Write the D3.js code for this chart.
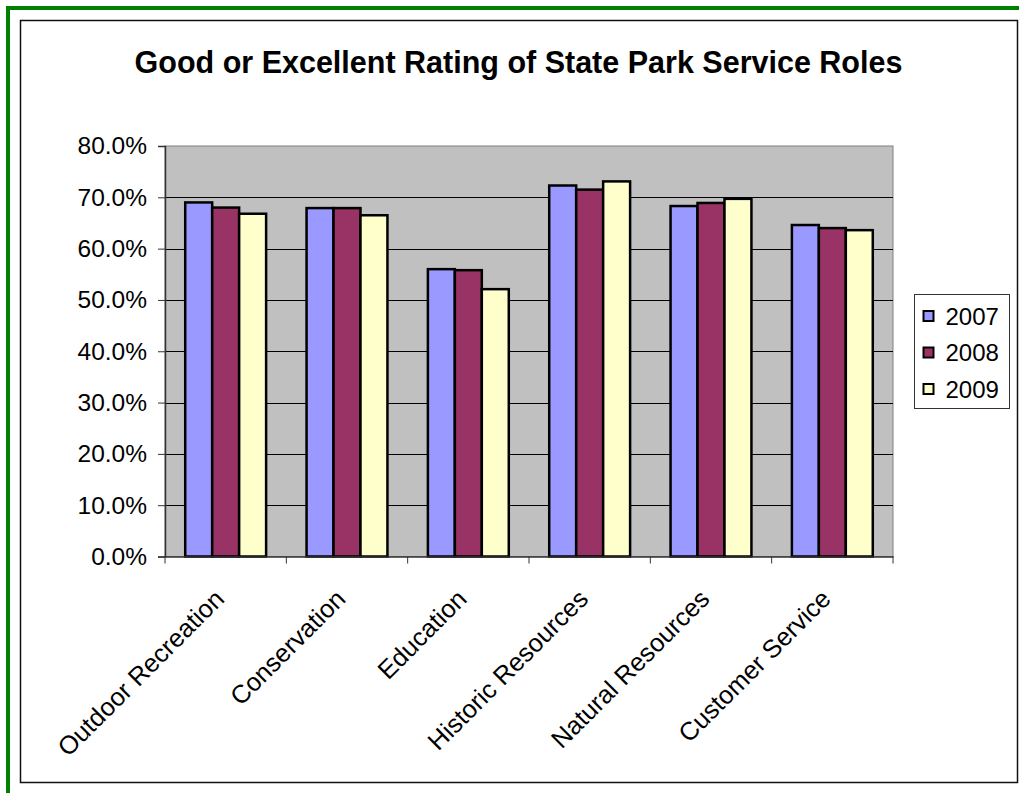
<!DOCTYPE html>
<html>
<head>
<meta charset="utf-8">
<script src="https://cdn.jsdelivr.net/npm/d3@7"></script>
<style>
  body { margin: 0; background: #fff; }
  text { font-family: "Liberation Sans", Arial, sans-serif; fill: #000; }
</style>
</head>
<body>
<div id="app"></div>
<script>
const categories = ['Outdoor Recreation', 'Conservation', 'Education', 'Historic Resources', 'Natural Resources', 'Customer Service']
const years = ['2007', '2008', '2009']
const values2007 = [69.0, 67.9, 56.0, 72.3, 68.3, 64.6]
const values2008 = [68.0, 67.9, 55.8, 71.5, 68.9, 64.0]
const values2009 = [66.8, 66.5, 52.1, 73.1, 69.7, 63.6]
const yTicks = [0, 10, 20, 30, 40, 50, 60, 70, 80]
const chartTitle = 'Good or Excellent Rating of State Park Service Roles'

const colors = { '2007': '#9999FF', '2008': '#993366', '2009': '#FFFFCC' }
const seriesValues = { '2007': values2007, '2008': values2008, '2009': values2009 }

const size = { width: 1019, height: 793 }
const plot = { left: 165, top: 146, right: 893, bottom: 556.5 }

const svg = d3.select('#app').append('svg')
  .attr('width', size.width)
  .attr('height', size.height)

// green outer frame (only top and left are visible in the picture)
svg.append('rect').attr('x', 6).attr('y', 6).attr('width', size.width - 6).attr('height', 4).attr('fill', '#008000')
svg.append('rect').attr('x', 6).attr('y', 6).attr('width', 4).attr('height', size.height - 6).attr('fill', '#008000')

// chart area border
svg.append('rect')
  .attr('x', 20.5).attr('y', 20.5)
  .attr('width', 997).attr('height', 762)
  .attr('fill', 'none').attr('stroke', '#111').attr('stroke-width', 1.5)

svg.append('text')
  .attr('x', 518.5).attr('y', 72.5)
  .attr('text-anchor', 'middle')
  .style('font-size', '30.5px').style('font-weight', 'bold')
  .text(chartTitle)

const x0 = d3.scaleBand().domain(categories).range([plot.left, plot.right]).padding(0)
const x1 = d3.scaleBand().domain(years).range([0, x0.bandwidth()]).paddingInner(0).paddingOuter(0.75)
const y = d3.scaleLinear().domain([0, 80]).range([plot.bottom, plot.top])

// plot background
svg.append('rect')
  .attr('x', plot.left).attr('y', plot.top)
  .attr('width', plot.right - plot.left).attr('height', plot.bottom - plot.top)
  .attr('fill', '#C0C0C0').attr('stroke', '#808080').attr('stroke-width', 1)

// gridlines
svg.append('g')
  .selectAll('line')
  .data(yTicks.filter(d => d > 0 && d < 80))
  .enter()
  .append('line')
  .attr('x1', plot.left).attr('x2', plot.right)
  .attr('y1', d => Math.round(y(d)) + 0.5).attr('y2', d => Math.round(y(d)) + 0.5)
  .attr('stroke', '#000').attr('stroke-width', 1)

// bars
const groups = svg.append('g')
  .selectAll('g')
  .data(categories)
  .enter()
  .append('g')
  .attr('transform', d => `translate(${x0(d)},0)`)

groups.selectAll('rect')
  .data((d, i) => years.map(yr => ({ year: yr, value: seriesValues[yr][i] })))
  .enter()
  .append('rect')
  .attr('x', d => x1(d.year))
  .attr('y', d => y(d.value))
  .attr('width', x1.bandwidth())
  .attr('height', d => y(0) - y(d.value))
  .attr('fill', d => colors[d.year])
  .attr('stroke', '#000')
  .attr('stroke-width', 2.5)

// y axis
const yAxis = d3.axisLeft(y)
  .tickValues(yTicks)
  .tickSize(7)
  .tickPadding(11)
  .tickFormat(d => d.toFixed(1) + '%')

svg.append('g')
  .attr('transform', `translate(${plot.left},0)`)
  .call(yAxis)
  .call(g => g.select('.domain').attr('stroke', '#333').attr('stroke-width', 1.5))
  .call(g => g.selectAll('.tick line').attr('stroke', '#333'))
  .call(g => g.selectAll('.tick text').style('font-size', '24.5px').style('font-family', '"Liberation Sans", Arial, sans-serif'))

// x axis
const xAxis = d3.axisBottom(x0).tickSize(0).tickFormat('')
const xg = svg.append('g')
  .attr('transform', `translate(0,${plot.bottom})`)
  .call(xAxis)
xg.select('.domain').attr('stroke', '#333').attr('stroke-width', 1.5)

// category separator ticks
xg.selectAll('.sep')
  .data(categories.concat(['end']))
  .enter()
  .append('line')
  .attr('x1', (d, i) => plot.left + i * x0.step())
  .attr('x2', (d, i) => plot.left + i * x0.step())
  .attr('y1', 0).attr('y2', 7)
  .attr('stroke', '#333')

// rotated category labels
svg.append('g')
  .selectAll('text')
  .data(categories)
  .enter()
  .append('text')
  .attr('text-anchor', 'end')
  .style('font-size', '25.5px')
  .attr('transform', d => `translate(${x0(d) + x0.bandwidth() / 2},${plot.bottom + 44}) rotate(-45)`)
  .text(d => d)

// legend
const legend = svg.append('g').attr('transform', 'translate(914.5,294.5)')
legend.append('rect')
  .attr('width', 95).attr('height', 114)
  .attr('fill', '#fff').attr('stroke', '#333').attr('stroke-width', 1)

const legendRow = d3.scalePoint().domain(years).range([22, 95])
const items = legend.selectAll('g.item')
  .data(years)
  .enter()
  .append('g')
  .attr('class', 'item')
  .attr('transform', d => `translate(0,${legendRow(d)})`)
items.append('rect')
  .attr('x', 9).attr('y', -5.5)
  .attr('width', 10).attr('height', 10)
  .attr('fill', d => colors[d])
  .attr('stroke', '#000').attr('stroke-width', 2)
items.append('text')
  .attr('x', 31).attr('dy', '0.35em')
  .style('font-size', '24px')
  .text(d => d)
</script>
</body>
</html>
